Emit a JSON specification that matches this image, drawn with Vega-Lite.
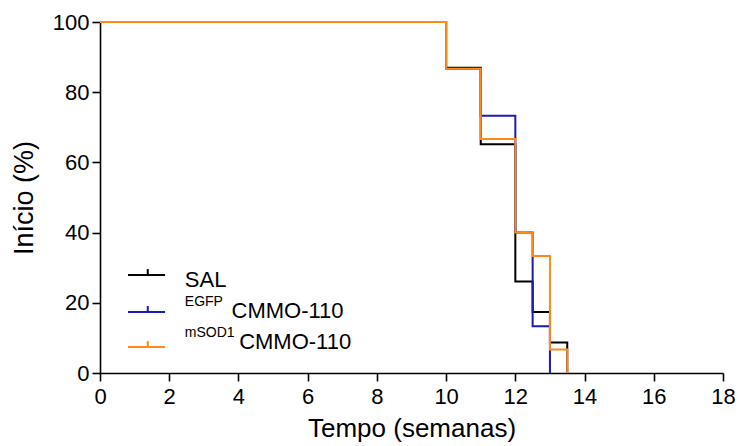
{
  "$schema": "https://vega.github.io/schema/vega-lite/v6.json",
  "width": 623,
  "height": 351,
  "autosize": "none",
  "padding": {"left": 100, "top": 22, "right": 17, "bottom": 73},
  "background": "white",
  "config": {
    "view": {"stroke": null},
    "font": "Liberation Sans"
  },
  "datasets": {
    "curves": [
      {"grupo": "SAL", "tempo": 0, "inicio": 100},
      {"grupo": "SAL", "tempo": 10, "inicio": 87.0},
      {"grupo": "SAL", "tempo": 11, "inicio": 65.2},
      {"grupo": "SAL", "tempo": 12, "inicio": 26.1},
      {"grupo": "SAL", "tempo": 12.5, "inicio": 17.4},
      {"grupo": "SAL", "tempo": 13, "inicio": 8.7},
      {"grupo": "SAL", "tempo": 13.5, "inicio": 0},
      {"grupo": "EGFP", "tempo": 0, "inicio": 100},
      {"grupo": "EGFP", "tempo": 10, "inicio": 86.7},
      {"grupo": "EGFP", "tempo": 11, "inicio": 73.3},
      {"grupo": "EGFP", "tempo": 12, "inicio": 40.0},
      {"grupo": "EGFP", "tempo": 12.5, "inicio": 13.3},
      {"grupo": "EGFP", "tempo": 13, "inicio": 0},
      {"grupo": "mSOD1", "tempo": 0, "inicio": 100},
      {"grupo": "mSOD1", "tempo": 10, "inicio": 86.7},
      {"grupo": "mSOD1", "tempo": 11, "inicio": 66.7},
      {"grupo": "mSOD1", "tempo": 12, "inicio": 40.0},
      {"grupo": "mSOD1", "tempo": 12.5, "inicio": 33.3},
      {"grupo": "mSOD1", "tempo": 13, "inicio": 6.7},
      {"grupo": "mSOD1", "tempo": 13.5, "inicio": 0}
    ],
    "legenda": [
      {"grupo": "SAL", "x0": 0.81, "x1": 1.88, "xm": 1.38, "y": 27.9, "ytick": 29.6, "ytexto": 26.4, "sup": "", "xsup": 2.45, "nome": "SAL", "xnome": 2.45},
      {"grupo": "EGFP", "x0": 0.81, "x1": 1.88, "xm": 1.38, "y": 17.4, "ytick": 19.1, "ytexto": 17.6, "sup": "EGFP", "xsup": 2.45, "nome": "CMMO-110", "xnome": 3.8},
      {"grupo": "mSOD1", "x0": 0.81, "x1": 1.88, "xm": 1.38, "y": 7.4, "ytick": 9.1, "ytexto": 8.8, "sup": "mSOD1", "xsup": 2.45, "nome": "CMMO-110", "xnome": 4.02}
    ]
  },
  "encoding": {},
  "layer": [
    {
      "data": {"name": "curves"},
      "mark": {"type": "line", "interpolate": "step-after", "strokeWidth": 2, "clip": false},
      "encoding": {
        "x": {
          "field": "tempo", "type": "quantitative",
          "scale": {"domain": [0, 18], "nice": false, "zero": false},
          "axis": {
            "values": [0, 2, 4, 6, 8, 10, 12, 14, 16, 18],
            "title": "Tempo (semanas)",
            "titleFontSize": 26, "titleFontWeight": "normal", "titleColor": "black",
            "titlePadding": 8,
            "labelFontSize": 22, "labelColor": "black", "labelPadding": 5,
            "labelFlush": false,
            "domainColor": "black", "domainWidth": 1.6,
            "tickColor": "black", "tickWidth": 1.6, "tickSize": 8,
            "grid": false
          }
        },
        "y": {
          "field": "inicio", "type": "quantitative",
          "scale": {"domain": [0, 100], "nice": false},
          "axis": {
            "values": [0, 20, 40, 60, 80, 100],
            "title": "Início (%)",
            "titleFontSize": 27, "titleFontWeight": "normal", "titleColor": "black",
            "titlePadding": 14,
            "labelFontSize": 22, "labelColor": "black", "labelPadding": 3,
            "labelFlush": false,
            "domainColor": "black", "domainWidth": 1.6,
            "tickColor": "black", "tickWidth": 1.6, "tickSize": 8,
            "grid": false
          }
        },
        "color": {
          "field": "grupo", "type": "nominal",
          "scale": {"domain": ["SAL", "EGFP", "mSOD1"], "range": ["#000000", "#1a1ab4", "#ff8a1a"]},
          "legend": null
        },
        "detail": {"field": "grupo"},
        "order": {"field": "tempo"}
      }
    },
    {
      "data": {"name": "legenda"},
      "mark": {"type": "rule", "strokeWidth": 2},
      "encoding": {
        "x": {"field": "x0", "type": "quantitative"},
        "x2": {"field": "x1"},
        "y": {"field": "y", "type": "quantitative"},
        "color": {"field": "grupo", "type": "nominal", "legend": null}
      }
    },
    {
      "data": {"name": "legenda"},
      "mark": {"type": "rule", "strokeWidth": 2},
      "encoding": {
        "x": {"field": "xm", "type": "quantitative"},
        "y": {"field": "y", "type": "quantitative"},
        "y2": {"field": "ytick"},
        "color": {"field": "grupo", "type": "nominal", "legend": null}
      }
    },
    {
      "data": {"name": "legenda"},
      "mark": {"type": "text", "align": "left", "baseline": "middle", "fontSize": 14, "dy": -9, "color": "black"},
      "encoding": {
        "x": {"field": "xsup", "type": "quantitative"},
        "y": {"field": "ytexto", "type": "quantitative"},
        "text": {"field": "sup"}
      }
    },
    {
      "data": {"name": "legenda"},
      "mark": {"type": "text", "align": "left", "baseline": "middle", "fontSize": 22, "dy": 0, "color": "black"},
      "encoding": {
        "x": {"field": "xnome", "type": "quantitative"},
        "y": {"field": "ytexto", "type": "quantitative"},
        "text": {"field": "nome"}
      }
    }
  ]
}
